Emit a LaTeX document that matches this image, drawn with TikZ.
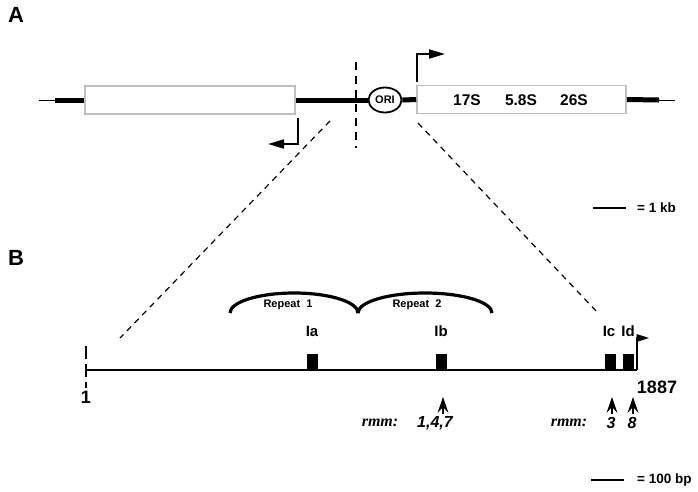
\documentclass[tikz,border=0pt]{standalone}
\usepackage{fontspec}
\setmainfont{Liberation Sans}
\newfontfamily\rmmfont{Liberation Serif}
\usetikzlibrary{arrows.meta,shapes.geometric}
\begin{document}
\begin{tikzpicture}[x=1pt,y=-1pt,
  txt/.style={inner sep=0pt, font=\fontsize{#1}{#1}\selectfont\bfseries},
  genebox/.style={draw=black!25, line width=1.6pt, fill=white, inner sep=0pt, minimum height=28pt},
  thickdna/.style={line width=5pt},
  thindna/.style={line width=1pt},
  cutline/.style={line width=1.2pt, dash pattern=on 6pt off 5pt},
  bentarrow/.style={line width=2pt, -{Triangle[length=16pt,width=9pt]}},
  exon/.style={fill=black, inner sep=0pt, minimum width=11pt, minimum height=16pt, anchor=south},
  rmmhead/.pic={\fill (0,0) -- (-5.5,16) -- (0,10) -- (5.5,16) -- cycle;
                \draw[line width=1.3pt] (0,9) -- (0,17);},
  rmmlab/.style={inner sep=0pt, font=\fontsize{16}{16}\selectfont\rmmfont\bfseries\itshape},
  numlab/.style={inner sep=0pt, font=\fontsize{16}{16}\selectfont\bfseries\itshape},
  scalebar/.style={line width=1.5pt},
  repeatarc/.style={line width=3.2pt}
]
\useasboundingbox (0,0) rectangle (698,491);

% ---------------- Panel A ----------------
\node[txt=22] (labA) at (16,15) {A};

\coordinate (a0) at (39,100);
\coordinate (a1) at (55,100);
\coordinate (a2) at (659,100);
\coordinate (a3) at (675,100);

\node[genebox, minimum width=210pt] (boxL) at (190,100) {};
\node[genebox, minimum width=209pt] (boxR) at (521.5,99.5) {};
\node[draw, ellipse, line width=1.8pt, minimum width=33pt, minimum height=25pt, inner sep=0pt,
      font=\fontsize{11}{11}\selectfont\bfseries] (ori) at (385,100) {ORI};

\draw[thindna] (a0) -- (a1);
\draw[thickdna] (a1) -- (boxL.west);
\draw[thickdna] (boxL.east) -- (ori.west);
\draw[thickdna] (ori.east) -- (boxR.west);
\draw[thickdna] (boxR.east) -- (a2);
\draw[thindna] (a2) -- (a3);

\node[txt=15.5] (r17) at (467,100) {17S};
\node[txt=15.5] (r58) at (521,100) {5.8S};
\node[txt=15.5] (r26) at (574,100) {26S};

\coordinate (vcT) at (356,62);
\coordinate (vcB) at (356,148);
\draw[line width=2pt, dash pattern=on 8pt off 6pt] (vcT) -- (vcB);

\coordinate (pr1) at (417,82);
\coordinate (pr1b) at (417,54);
\coordinate (pr1e) at (445,54);
\draw[bentarrow] (pr1) -- (pr1b) -- (pr1e);

\coordinate (pr2) at (298,118);
\coordinate (pr2b) at (298,144);
\coordinate (pr2e) at (268,144);
\draw[bentarrow] (pr2) -- (pr2b) -- (pr2e);

\coordinate (cutL1) at (330,121);
\coordinate (cutL2) at (120,338);
\coordinate (cutR1) at (418,123);
\coordinate (cutR2) at (598,313);
\draw[cutline] (cutL1) -- (cutL2);
\draw[cutline] (cutR1) -- (cutR2);

\coordinate (sbA1) at (593,208);
\coordinate (sbA2) at (626,208);
\draw[scalebar] (sbA1) -- (sbA2);
\node[txt=13.5, anchor=west] (sbAt) at (637,208) {= 1 kb};

% ---------------- Panel B ----------------
\node[txt=22] (labB) at (16,258) {B};

\coordinate (b0) at (86,370);
\coordinate (b1) at (637,370);
\draw[line width=2.6pt] (b0) -- (b1);

\coordinate (tkT) at (86,346);
\coordinate (tkB) at (86,388);
\draw[line width=1.6pt, dash pattern=on 13pt off 5pt] (tkT) -- (tkB);
\node[txt=18] (n1) at (86,397) {1};

\node[exon] (Ia) at (312.5,370) {};
\node[exon] (Ib) at (441.5,370) {};
\node[exon] (Ic) at (610.5,370) {};
\node[exon] (Id) at (628.5,370) {};

\node[txt=15] (lIa) at (312,331) {Ia};
\node[txt=15] (lIb) at (441,331) {Ib};
\node[txt=15] (lIc) at (609,331) {Ic};
\node[txt=15] (lId) at (628,331) {Id};

\coordinate (flT) at (637,337);
\draw[line width=1.5pt] (b1) -- (flT);
\fill (636.5,334) -- (649,338) -- (636.5,342) -- cycle;
\node[txt=18] (n1887) at (657,387) {1887};

\coordinate (rp0) at (230,313);
\coordinate (rp1) at (358,313);
\coordinate (rp2) at (492,312);
\draw[repeatarc] (rp0) arc[start angle=180, end angle=0, x radius=64pt, y radius=20pt];
\draw[repeatarc] (rp1) arc[start angle=180, end angle=0, x radius=67pt, y radius=20pt];
\node[inner sep=0pt, font=\fontsize{11}{11}\selectfont\bfseries] (rep1) at (288,305) {Repeat\ \ 1};
\node[inner sep=0pt, font=\fontsize{11}{11}\selectfont\bfseries] (rep2) at (417,305) {Repeat\ \ 2};

\coordinate (ar1) at (443,397);
\coordinate (ar2) at (612,397);
\coordinate (ar3) at (633,397);
\pic at (ar1) {rmmhead};
\pic at (ar2) {rmmhead};
\pic at (ar3) {rmmhead};

\node[rmmlab] (rmm1) at (380,423) {rmm:};
\node[numlab] (m147) at (435,423) {1,4,7};
\node[rmmlab] (rmm2) at (569,423) {rmm:};
\node[numlab] (m3) at (611,423) {3};
\node[numlab] (m8) at (632,423) {8};

\coordinate (sbB1) at (591,480);
\coordinate (sbB2) at (624,480);
\draw[scalebar] (sbB1) -- (sbB2);
\node[txt=13.5, anchor=west] (sbBt) at (637,480) {= 100 bp};

\end{tikzpicture}
\end{document}
